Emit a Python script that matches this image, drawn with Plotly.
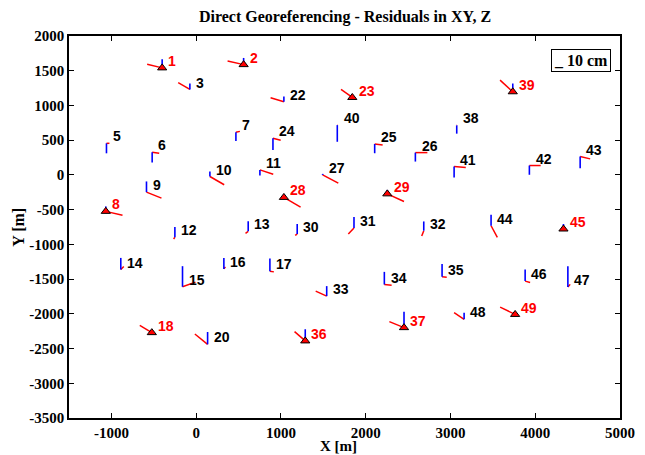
import plotly.graph_objects as go

# Point ids
point_ids = [1, 2, 3, 5, 6, 7, 8, 9, 10, 11, 12, 13, 14, 15, 16, 17, 18, 20,
             22, 23, 24, 25, 26, 27, 28, 29, 30, 31, 32, 33, 34, 35, 36, 37,
             38, 39, 40, 41, 42, 43, 44, 45, 46, 47, 48, 49]
# Point coordinates [m]
x_m = [-401, 560, -74, -1058, -519, 469, -1066, -586, 162, 752, -251, 614, -889, -161, 327, 870, -523, 135,
       1035, 1842, 906, 2106, 2586, 1492, 1035, 2255, 1192, 1862, 2685, 1540, 2220, 2901, 1287, 2452,
       3074, 3735, 1665, 3043, 3931, 4530, 3479, 4333, 3881, 4385, 3161, 3763]
y_m = [1541, 1588, 1230, 455, 326, 613, -525, -248, -23, 72, -898, -812, -1363, -1611, -1353, -1386, -2271, -2439,
       1053, 1115, 527, 445, 321, 0, -324, -273, -851, -765, -803, -1745, -1578, -1468, -2390, -2199,
       713, 1197, 717, 121, 135, 264, -732, -779, -1529, -1615, -2080, -2009]
# Residuals [cm]
res_x = [-17.7, -18.9, -13.8, 3.5, 8.3, 4.7, 19.7, 17.7, 16.9, 15.7, -1.5, -3.2, 3.5, 15.3, 1.8, 4.7, -14.2, -15.0,
         -15.7, -13.3, 9.1, 9.4, 14.2, 18.5, 19.7, 19.7, -2.4, -6.7, -2.4, -13.0, 8.6, 5.5, -12.6, -17.3,
         0.3, -15.0, 0.3, 13.8, 13.3, 11.8, 7.4, 0.5, 5.9, 2.7, -11.8, -17.7]
res_y = [5.2, 5.3, 10.0, 0.0, -1.4, 1.4, -5.7, -8.6, -11.9, -6.2, -2.4, -2.9, 4.3, 6.7, 2.9, -1.0, 10.5, 14.8,
         5.7, 11.5, -2.9, -1.4, 0.0, -11.9, -13.9, -11.0, -1.9, -8.6, -7.6, 7.2, -1.0, -0.4, 13.3, 8.6,
         0.3, 16.8, 0.2, -1.4, 0.0, -3.3, -16.8, 0.3, -1.9, 3.9, 9.6, 10.5]
res_z = [12.5, 9.6, 8.6, -14.4, -14.8, -12.5, 7.2, 15.4, 7.2, -8.2, 14.8, 14.4, 16.8, 29.7, 15.8, 18.1, 2.0, 17.7,
         7.6, 1.5, -16.8, -13.3, -12.9, 1.5, 4.3, 5.7, 14.4, 15.8, 13.3, 14.4, 18.2, 18.7, 16.8, 23.0,
         -11.9, 11.9, -24.0, -15.8, -13.3, -16.8, 15.8, 7.2, 16.8, 30.1, 9.6, 2.9]
# Ground control points (drawn with triangles and red labels)
control_ids = [1, 2, 8, 18, 23, 28, 29, 36, 37, 39, 45, 49]

# Axis ticks
x_ticks = [-1000, 0, 1000, 2000, 3000, 4000, 5000]
y_ticks = [2000, 1500, 1000, 500, 0, -500, -1000, -1500, -2000, -2500, -3000, -3500]

scale = 10.0  # metres of plot per cm of residual

red_x, red_y, blue_x, blue_y = [], [], [], []
for xi, yi, rx, ry, rz in zip(x_m, y_m, res_x, res_y, res_z):
    red_x += [xi, xi + rx * scale, None]
    red_y += [yi, yi + ry * scale, None]
    blue_x += [xi, xi, None]
    blue_y += [yi, yi + rz * scale, None]

fig = go.Figure()
fig.add_trace(go.Scatter(x=red_x, y=red_y, mode="lines",
                         line=dict(color="#ff0000", width=1.5), showlegend=False, hoverinfo="skip"))
fig.add_trace(go.Scatter(x=blue_x, y=blue_y, mode="lines",
                         line=dict(color="#0000ff", width=1.6), showlegend=False, hoverinfo="skip"))

cx = [x for p, x in zip(point_ids, x_m) if p in control_ids]
cy = [y for p, y in zip(point_ids, y_m) if p in control_ids]
fig.add_trace(go.Scatter(x=cx, y=cy, mode="markers",
                         marker=dict(symbol="triangle-up", size=8, color="#ff0000",
                                     line=dict(color="black", width=1)),
                         showlegend=False, hoverinfo="skip"))

for p, xi, yi in zip(point_ids, x_m, y_m):
    col = "#ff0000" if p in control_ids else "#000000"
    fig.add_annotation(x=xi + 50, y=yi + 100, text="<b>%d</b>" % p, showarrow=False,
                       xanchor="left", yanchor="middle",
                       font=dict(family="Liberation Sans, Arial", size=14, color=col))

serif = "Liberation Serif, Times New Roman"

# scale box
fig.add_annotation(x=0.984, y=0.965, xref="paper", yref="paper", xanchor="right", yanchor="top",
                   text="<b>_ 10 cm</b>", showarrow=False, bordercolor="black", borderwidth=1,
                   borderpad=2, bgcolor="white",
                   font=dict(family=serif, size=16, color="black"))

# axis titles
fig.add_annotation(x=0.49, y=-0.073, xref="paper", yref="paper", xanchor="center", yanchor="middle",
                   text="<b>X [m]</b>", showarrow=False,
                   font=dict(family=serif, size=15, color="black"))
fig.add_annotation(x=-0.093, y=0.5, xref="paper", yref="paper", xanchor="center", yanchor="middle",
                   text="<b>Y [m]</b>", showarrow=False, textangle=-90,
                   font=dict(family=serif, size=16, color="black"))

axis_common = dict(showline=True, linecolor="black", linewidth=1.5, mirror="ticks",
                   ticks="inside", ticklen=5, tickcolor="black", tickwidth=1,
                   showgrid=False, zeroline=False, automargin=False,
                   tickfont=dict(family=serif, size=15, color="black", weight="bold"))

fig.update_layout(
    width=645, height=455,
    margin=dict(l=69, r=25, t=36, b=37),
    plot_bgcolor="white", paper_bgcolor="white",
    title=dict(text="<b>Direct Georeferencing - Residuals in XY, Z</b>", x=0.535, xanchor="center",
               y=0.965, yanchor="middle",
               font=dict(family=serif, size=16, color="black")),
    xaxis=dict(range=[-1500, 5000], tickmode="array", tickvals=x_ticks,
               ticktext=["<b>%d</b>" % v for v in x_ticks], **axis_common),
    yaxis=dict(range=[-3500, 2000], tickmode="array", tickvals=y_ticks,
               ticktext=["<b>%d</b>" % v for v in y_ticks], **axis_common),
)

fig.write_html("out.html")
